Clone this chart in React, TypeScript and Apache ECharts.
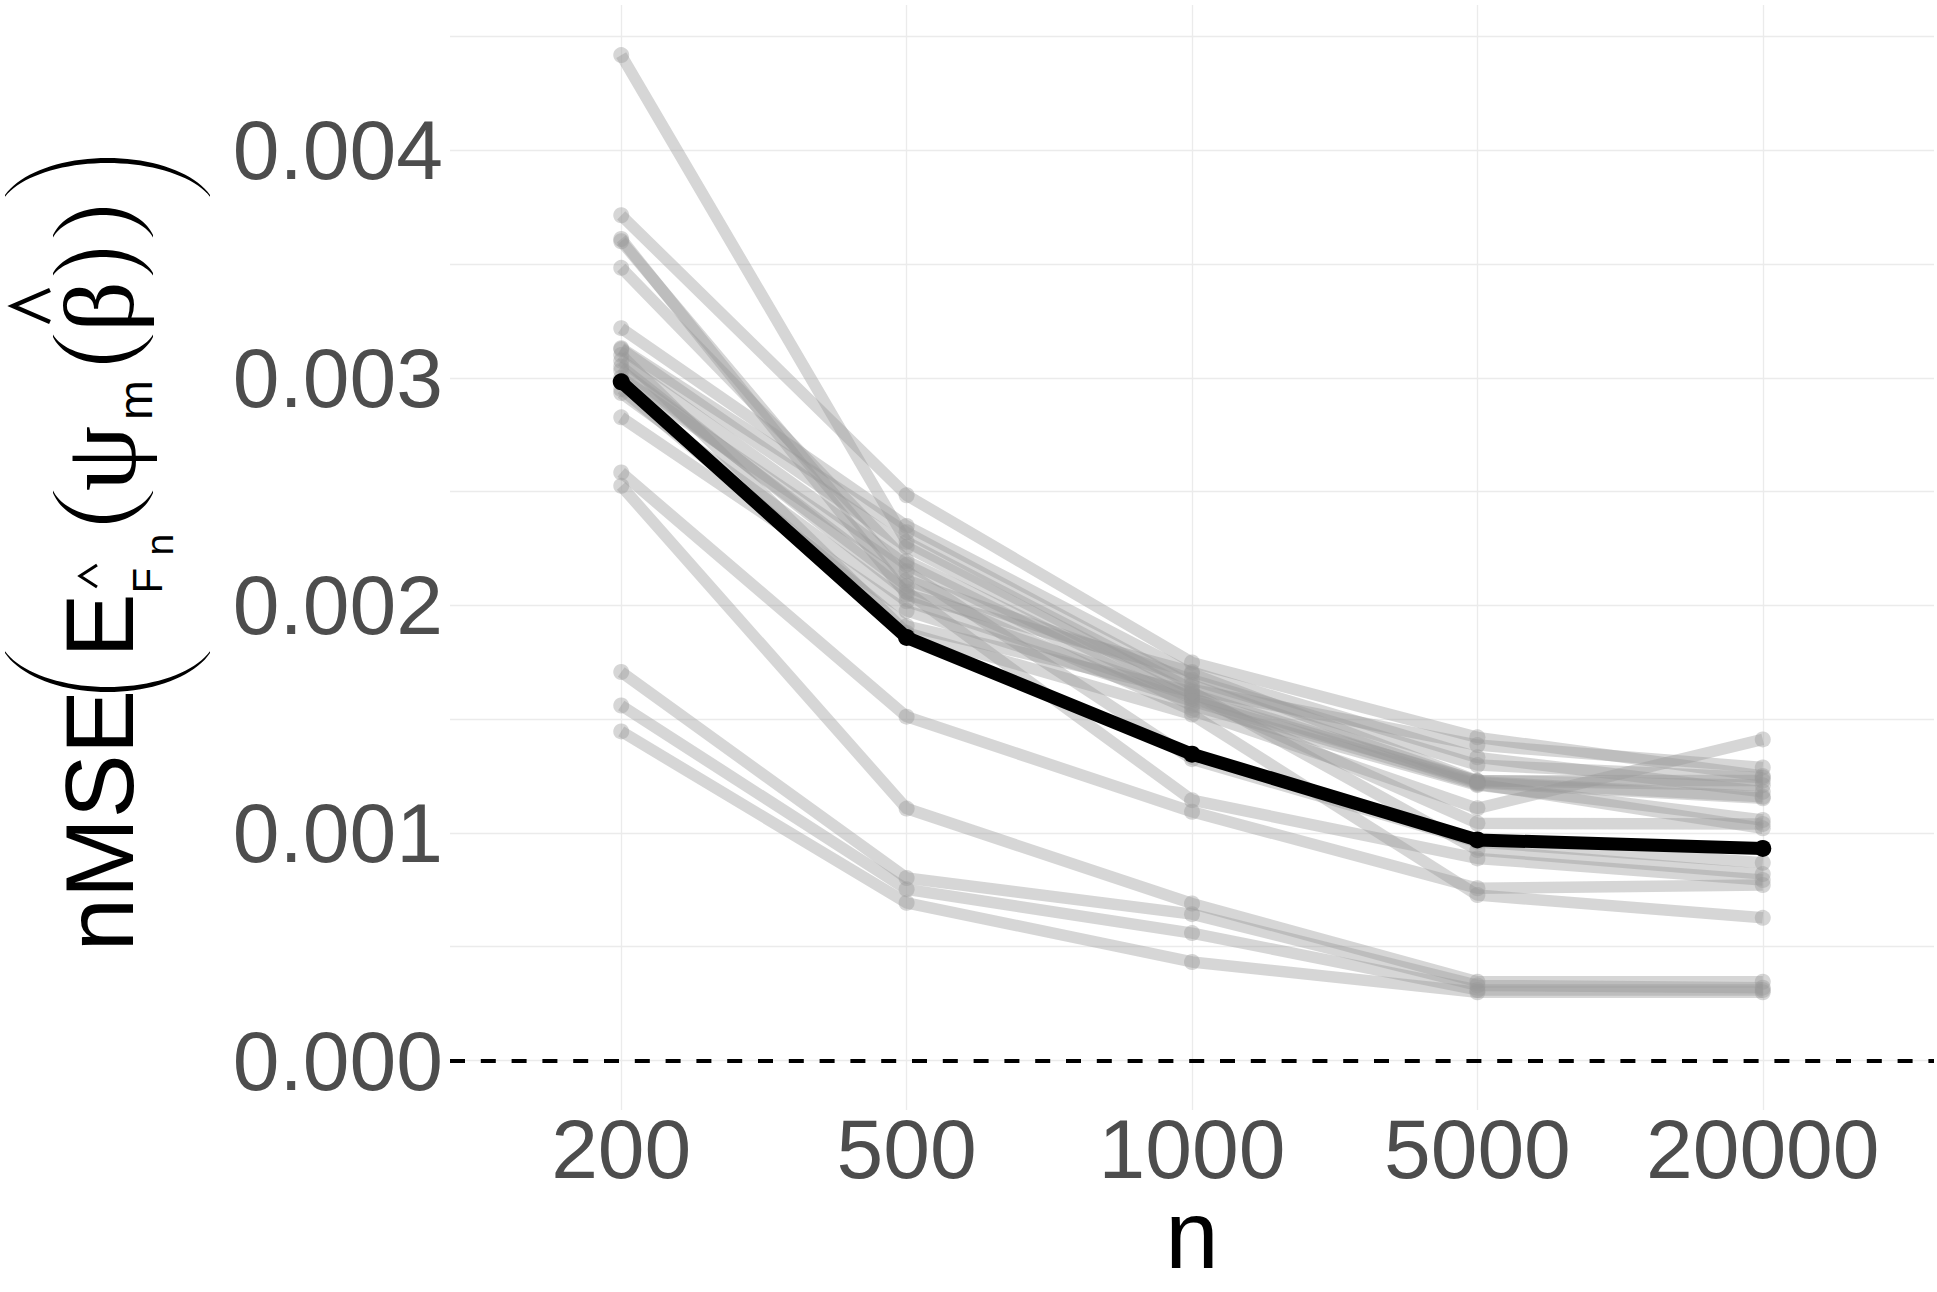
import React, { useEffect, useRef } from 'react';
import * as echarts from 'echarts';

// ---------- data ----------
const categories = ['200', '500', '1000', '5000', '20000'];
const yLabelValues = [0, 0.001, 0.002, 0.003, 0.004];
const yGridValues = [0, 0.0005, 0.001, 0.0015, 0.002, 0.0025, 0.003, 0.0035, 0.004, 0.0045];
const xTitle = 'n';

const meanRun = [0.002982, 0.001859, 0.001346, 0.000969, 0.000932];

const run01 = [0.003714, 0.002484, 0.001749, 0.00142, 0.00125];
const run02 = [0.004418, 0.002279, 0.001631, 0.001386, 0.001288];
const run03 = [0.00361, 0.002047, 0.001707, 0.001332, 0.001181];
const run04 = [0.0036, 0.002111, 0.001673, 0.001298, 0.001243];
const run05 = [0.003483, 0.002195, 0.001589, 0.001229, 0.00123];
const run06 = [0.003218, 0.002349, 0.0017, 0.001229, 0.00121];
const run07 = [0.00313, 0.002321, 0.00165, 0.001225, 0.001159];
const run08 = [0.003125, 0.002257, 0.00161, 0.00122, 0.001152];
const run09 = [0.003075, 0.002178, 0.00156, 0.00121, 0.001057];
const run10 = [0.003032, 0.002085, 0.001539, 0.001108, 0.001411];
const run11 = [0.002933, 0.002018, 0.0016, 0.001042, 0.001039];
const run12 = [0.002826, 0.001976, 0.00158, 0.001215, 0.00102];
const run13 = [0.003, 0.00215, 0.001324, 0.00096, 0.000869];
const run14 = [0.00295, 0.001909, 0.00162, 0.000925, 0.000819];
const run15 = [0.00305, 0.00206, 0.001144, 0.000888, 0.000793];
const run16 = [0.002584, 0.001511, 0.001093, 0.000757, 0.000771];
const run17 = [0.0031, 0.00188, 0.00152, 0.000727, 0.000627];
const run18 = [0.002525, 0.001107, 0.00069, 0.000346, 0.000346];
const run19 = [0.001707, 0.000802, 0.000643, 0.00033, 0.00032];
const run20 = [0.00156, 0.000752, 0.00056, 0.00031, 0.00031];
const run21 = [0.001446, 0.000693, 0.000433, 0.0003, 0.0003];

const grayRuns = [
  run01, run02, run03, run04, run05, run06, run07, run08, run09, run10, run11,
  run12, run13, run14, run15, run16, run17, run18, run19, run20, run21,
];

// ---------- helpers for the y title drawing ----------
function parenPoints(xa: number, xb: number, yEnd: number, yApex: number, thick: number) {
  const t0 = 0.35;
  const s = yApex > yEnd ? 1 : -1;
  const D = Math.abs(yApex - yEnd);
  const bOut = D / (1 - Math.sin(t0));
  const cy = yEnd - s * bOut * Math.sin(t0);
  const cx = (xa + xb) / 2;
  const a = (xb - xa) / 2 / Math.cos(t0);
  const pts: number[][] = [];
  const N = 40;
  for (let k = 0; k <= N; k++) {
    const t = t0 + ((Math.PI - 2 * t0) * k) / N;
    pts.push([cx + a * Math.cos(t), cy + s * bOut * Math.sin(t)]);
  }
  const bIn = bOut - thick;
  for (let k = N; k >= 0; k--) {
    const t = t0 + ((Math.PI - 2 * t0) * k) / N;
    pts.push([cx + a * Math.cos(t), cy + s * bIn * Math.sin(t)]);
  }
  return pts;
}

const SANS = 'Liberation Sans';
const SERIF = 'Liberation Serif';

function vText(text: string, x: number, y: number, size: number, family: string) {
  return {
    type: 'text',
    x,
    y,
    rotation: Math.PI / 2,
    silent: true,
    style: {
      text,
      fill: '#000',
      fontSize: size,
      fontFamily: family,
      font: `${size}px "${family}"`,
      align: 'left',
      textAlign: 'left',
      verticalAlign: 'middle',
      textVerticalAlign: 'middle',
    },
  };
}

function paren(xa: number, xb: number, yEnd: number, yApex: number, thick: number) {
  return {
    type: 'polygon',
    silent: true,
    shape: { points: parenPoints(xa, xb, yEnd, yApex, thick) },
    style: { fill: '#000' },
  };
}

function hat(points: number[][], w: number) {
  return {
    type: 'polyline',
    silent: true,
    shape: { points },
    style: { stroke: '#000', lineWidth: w, fill: 'none', lineJoin: 'miter' },
  };
}

const GRAY = 'rgba(153,153,153,0.4)';

export default function App() {
  const ref = useRef<HTMLDivElement>(null);

  useEffect(() => {
    if (!ref.current) return;
    document.body.style.margin = '0';
    const chart = echarts.init(ref.current, null, { renderer: 'svg' });

    const graySeries = grayRuns.map((run, idx) => ({
      name: 'run' + (idx + 1),
      type: 'line',
      data: run.map((v, i) => [i + 1, v]),
      symbol: 'circle',
      symbolSize: 16,
      showSymbol: true,
      showAllSymbol: true,
      silent: true,
      lineStyle: { color: GRAY, width: 11.5, join: 'round', cap: 'butt' },
      itemStyle: { color: GRAY, borderWidth: 0 },
      emphasis: { disabled: true },
      z: 2,
    }));

    const option: any = {
      animation: false,
      backgroundColor: '#ffffff',
      tooltip: { show: false },
      grid: {
        left: 450,
        right: 3,
        top: 5,
        bottom: 182,
        containLabel: false,
        outerBoundsMode: 'none',
      },
      xAxis: {
        type: 'value',
        min: 0.4,
        max: 5.6,
        axisLine: { show: false },
        axisTick: { show: false, customValues: [1, 2, 3, 4, 5] },
        axisLabel: {
          customValues: [1, 2, 3, 4, 5],
          formatter: (v: number) => categories[Math.round(v) - 1] ?? '',
          fontSize: 84,
          lineHeight: 64,
          color: '#4d4d4d',
          fontFamily: SANS,
          margin: 7,
        },
        splitLine: { show: true, lineStyle: { color: '#ebebeb', width: 1.3 } },
      },
      yAxis: {
        type: 'value',
        min: -0.0002175,
        max: 0.004638,
        axisLine: { show: false },
        axisTick: { show: false, customValues: yGridValues },
        axisLabel: {
          customValues: yLabelValues,
          formatter: (v: number) => v.toFixed(3),
          fontSize: 84,
          color: '#4d4d4d',
          fontFamily: SANS,
          margin: 7,
        },
        splitLine: { show: true, lineStyle: { color: '#ebebeb', width: 1.3 } },
      },
      series: [
        ...graySeries,
        {
          name: 'mean',
          type: 'line',
          data: meanRun.map((v, i) => [i + 1, v]),
          symbol: 'circle',
          symbolSize: 17,
          showSymbol: true,
          silent: true,
          lineStyle: { color: '#000', width: 13, join: 'round' },
          itemStyle: { color: '#000', borderWidth: 0 },
          emphasis: { disabled: true },
          z: 3,
          markLine: {
            silent: true,
            symbol: ['none', 'none'],
            label: { show: false },
            lineStyle: { color: '#000', type: [15, 15.8], width: 3.8 },
            emphasis: { disabled: true },
            data: [{ yAxis: 0 }],
          },
        },
      ],
      graphic: [
        {
          type: 'text',
          x: 1192,
          y: 1234,
          silent: true,
          style: {
            text: xTitle,
            fill: '#000',
            fontSize: 96,
            lineHeight: 64,
            fontFamily: SANS,
            font: `96px "${SANS}"`,
            align: 'center',
            textAlign: 'center',
            verticalAlign: 'middle',
            textVerticalAlign: 'middle',
          },
        },
        {
          type: 'group',
          silent: true,
          children: [
            vText('nMSE', 99.7, 951.5, 96, SANS),
            paren(5, 210, 653, 692, 5),
            vText('E', 99.7, 657.6, 96, SANS),
            vText('F', 147.4, 593.4, 42, SANS),
            hat([[97, 565], [80, 576], [97, 587]], 3),
            vText('n', 159.5, 555.6, 39, SANS),
            paren(53, 153, 493, 523, 7),
            vText('ψ', 99, 491, 104, SERIF),
            vText('m', 135.4, 420, 48, SANS),
            paren(53, 153, 337, 363, 7),
            vText('β', 99.25, 332, 100, SERIF),
            hat([[50, 290], [13, 306], [50, 322]], 4.5),
            paren(53, 153, 273, 250, 7),
            paren(53, 153, 235, 208, 7),
            paren(5, 210, 195, 158, 5),
          ],
        },
      ],
    };

    chart.setOption(option);
    return () => chart.dispose();
  }, []);

  return (
    <div
      ref={ref}
      style={{ position: 'fixed', left: 0, top: 0, width: 1937, height: 1292, background: '#fff' }}
    />
  );
}
